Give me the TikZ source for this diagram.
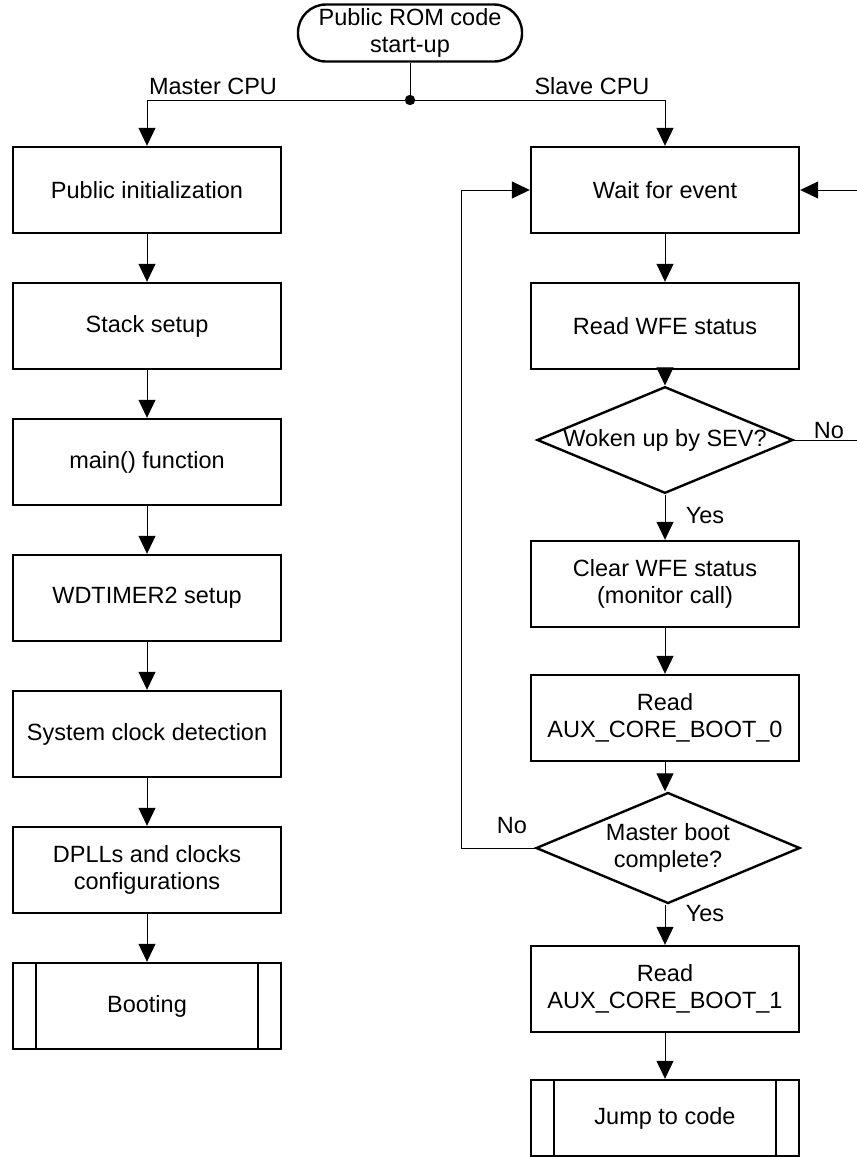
\documentclass[tikz,border=0pt]{standalone}
\usepackage{fontspec}
\setmainfont{Liberation Sans}
\usepackage{tikz}
\usetikzlibrary{shapes.geometric,arrows.meta}

\begin{document}
\begin{tikzpicture}[
    x=0.5pt, y=-0.5pt,
    every node/.style={font=\fontsize{11.75}{13.2}\selectfont, align=center},
    procbox/.style={draw, line width=1.2pt, minimum width=134pt, minimum height=43pt, inner sep=0pt},
    subbox/.style={procbox, path picture={
        \draw[line width=1.2pt] ([xshift=11.5pt]path picture bounding box.north west) -- ([xshift=11.5pt]path picture bounding box.south west);
        \draw[line width=1.2pt] ([xshift=-11.5pt]path picture bounding box.north east) -- ([xshift=-11.5pt]path picture bounding box.south east);}},
    termbox/.style={draw, line width=1.2pt, rounded corners=14pt, minimum width=112pt, minimum height=28.5pt, inner sep=0pt},
    decbox/.style={draw, diamond, aspect=2.4, line width=1.2pt, inner sep=0pt},
    flow/.style={line width=0.5pt, -{Triangle[width=8.5pt,length=9pt]}},
    link/.style={line width=0.5pt},
    lbl/.style={inner sep=1pt},
]
\useasboundingbox (0,0) rectangle (857,1157);

% start
\node[termbox] (start) at (410,33) {Public ROM code\\start-up};
\coordinate (split) at (410,100);
\fill (split) circle (2.6pt);
\node[lbl] (mlbl) at (213,86) {Master CPU};
\node[lbl] (slbl) at (592,86) {Slave CPU};

% master CPU
\node[procbox] (pubinit) at (147,190) {Public initialization};
\node[procbox] (stack) at (147,326) {Stack setup};
\node[procbox] (mainfn) at (147,462) {main() function};
\node[procbox] (wdt) at (147,598) {WDTIMER2 setup};
\node[procbox] (sysclk) at (147,734) {System clock detection};
\node[procbox] (dpll) at (147,870) {DPLLs and clocks\\configurations};
\node[subbox] (boot) at (147,1006) {Booting};

% slave CPU
\node[procbox] (wait) at (665,190) {Wait for event};
\node[procbox] (rdwfe) at (665,326) {Read WFE status};
\node[decbox, minimum width=127pt, minimum height=48pt] (sev) at (665,440) {Woken up by SEV?};
\node[procbox] (clrwfe) at (665,584) {Clear WFE status\\(monitor call)};
\node[procbox] (rdboot0) at (665,718) {Read\\AUX\_CORE\_BOOT\_0};
\node[decbox, minimum width=132pt, minimum height=55.5pt] (mdone) at (668,848) {Master boot\\complete?};
\node[procbox] (rdboot1) at (665,989) {Read\\AUX\_CORE\_BOOT\_1};
\node[subbox, minimum height=38pt] (jump) at (665,1118) {Jump to code};

% connectors
\draw[link] (start) -- (split);
\draw[flow] (split) -| (pubinit);
\draw[flow] (split) -| (wait);
\foreach \a/\b in {pubinit/stack, stack/mainfn, mainfn/wdt, wdt/sysclk, sysclk/dpll, dpll/boot}
  \draw[flow] (\a) -- (\b);
\draw[flow] (wait) -- (rdwfe);
\draw[flow] (rdwfe) -- (sev);
\draw[flow] (sev) -- (clrwfe);
\draw[flow] (clrwfe) -- (rdboot0);
\draw[flow] (rdboot0) -- (mdone.north -| rdboot0);
\draw[flow] (mdone.south -| rdboot1) -- (rdboot1);
\draw[flow] (rdboot1) -- (jump);

\coordinate (sevout) at (857,440);
\draw[link] (sev.east) -- (sevout);
\coordinate (wakein) at (857,190);
\draw[flow] (wakein) -- (wait.east);
\coordinate (retry) at (461,190);
\draw[link] (mdone.west) -| (retry);
\draw[flow] (retry) -- (wait.west);

\node[lbl] (sevno) at (829,431) {No};
\node[lbl] (sevyes) at (705,516) {Yes};
\node[lbl] (mno) at (512,826) {No};
\node[lbl] (myes) at (705,914) {Yes};
\end{tikzpicture}
\end{document}
